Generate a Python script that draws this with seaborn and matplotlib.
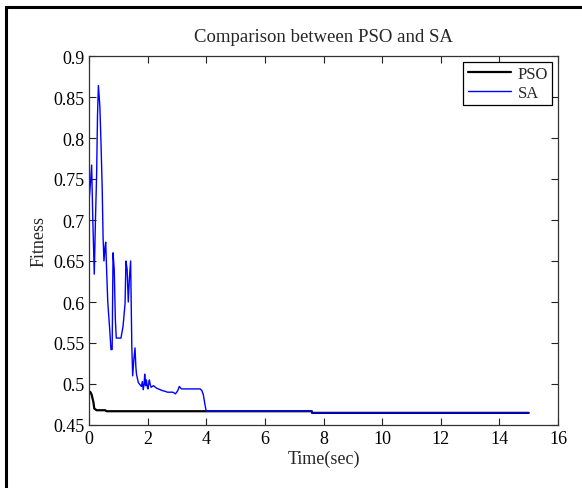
import numpy as np
import pandas as pd
import matplotlib
matplotlib.use("Agg")
import matplotlib.pyplot as plt
import seaborn as sns

# SA fitness over time
sa_time = [0.0, 0.05, 0.09, 0.13, 0.18, 0.22, 0.26, 0.29, 0.32, 0.37, 0.41, 0.45, 0.48, 0.51,
           0.55, 0.57, 0.6, 0.64, 0.7, 0.75, 0.79, 0.82, 0.86, 0.9, 0.93, 1.09, 1.16, 1.23,
           1.26, 1.3, 1.34, 1.38, 1.42, 1.46, 1.49, 1.53, 1.57, 1.6, 1.62, 1.65, 1.68, 1.72,
           1.79, 1.82, 1.85, 1.88, 1.9, 1.93, 1.96, 1.99, 2.01, 2.04, 2.06, 2.09, 2.12, 2.2,
           2.3, 2.5, 2.6, 2.68, 2.8, 2.86, 2.95, 3.03, 3.08, 3.13, 3.16, 3.5, 3.79, 3.85,
           3.9, 3.96, 4.0, 7.6, 7.61, 15.0]
sa_fit = [0.722, 0.745, 0.767, 0.700, 0.634, 0.700, 0.755, 0.827, 0.864, 0.839, 0.793, 0.739,
          0.679, 0.650, 0.668, 0.673, 0.640, 0.600, 0.570, 0.542, 0.542, 0.660, 0.640,
          0.578, 0.556, 0.556, 0.570, 0.598, 0.650, 0.640, 0.600, 0.630, 0.650, 0.546,
          0.510, 0.530, 0.544, 0.520, 0.512, 0.507, 0.502, 0.500, 0.497, 0.503, 0.493,
          0.500, 0.512, 0.498, 0.505, 0.496, 0.494, 0.501, 0.505, 0.499, 0.496, 0.498,
          0.495, 0.492, 0.491, 0.490, 0.490, 0.490, 0.488, 0.492, 0.497, 0.495, 0.494,
          0.494, 0.494, 0.492, 0.487, 0.474, 0.4668, 0.4668, 0.4648, 0.4648]

# PSO fitness over time
pso_time = [0.0, 0.05, 0.09, 0.15, 0.18, 0.26, 0.55, 0.6, 7.6, 7.61, 15.0]
pso_fit = [0.491, 0.490, 0.487, 0.478, 0.470, 0.468, 0.468, 0.4668, 0.4668, 0.4648, 0.4648]

sns.set_style("ticks")
plt.rcParams['font.family'] = ['Liberation Serif', 'DejaVu Serif']
plt.rcParams['xtick.direction'] = 'in'
plt.rcParams['ytick.direction'] = 'in'

fig = plt.figure(figsize=(5.82, 4.89), dpi=100)
ax = fig.add_axes([89 / 582, 1 - 426 / 489, 469 / 582, 369 / 489])

pso_df = pd.DataFrame({"time": pso_time, "fitness": pso_fit})
sa_df = pd.DataFrame({"time": sa_time, "fitness": sa_fit})
sns.lineplot(data=pso_df, x="time", y="fitness", ax=ax, color="black", linewidth=1.6,
             label="PSO", estimator=None, sort=False)
sns.lineplot(data=sa_df, x="time", y="fitness", ax=ax, color="#0000ff", linewidth=1.0,
             label="SA", estimator=None, sort=False)

ax.set_xlim(0, 16)
ax.set_ylim(0.45, 0.9)
ax.set_xticks(np.arange(0, 17, 2))
ax.set_yticks(np.arange(0.45, 0.901, 0.05))
ax.set_xticklabels([str(v) for v in range(0, 17, 2)])
ax.set_yticklabels(["0.45", "0.5", "0.55", "0.6", "0.65", "0.7", "0.75", "0.8", "0.85", "0.9"])
ax.tick_params(top=True, right=True, length=5, width=0.8, labelsize=13, colors="#222222",
               labelcolor="black")
for s in ax.spines.values():
    s.set_color("#333333")
    s.set_linewidth(0.9)

ax.set_title("Comparison between PSO and SA", fontsize=13.5, pad=11)
ax.set_xlabel("Time(sec)", fontsize=13, labelpad=2)
ax.set_ylabel("Fitness", fontsize=13, labelpad=4)

leg = ax.legend(loc="upper right", fontsize=12, frameon=True, fancybox=False,
                edgecolor="black", framealpha=1, handlelength=2.6, borderaxespad=0.35,
                borderpad=0.25, labelspacing=0.15, handletextpad=0.4)
leg.get_frame().set_linewidth(0.9)

# outer frame of the original screenshot (left and top edges)
fig.add_artist(plt.Rectangle((6 / 582, -0.1), 1.2, (489 - 8) / 489 + 0.1,
                             transform=fig.transFigure, fill=False, edgecolor="black",
                             linewidth=2.2))

fig.savefig("out.png", dpi=100)
